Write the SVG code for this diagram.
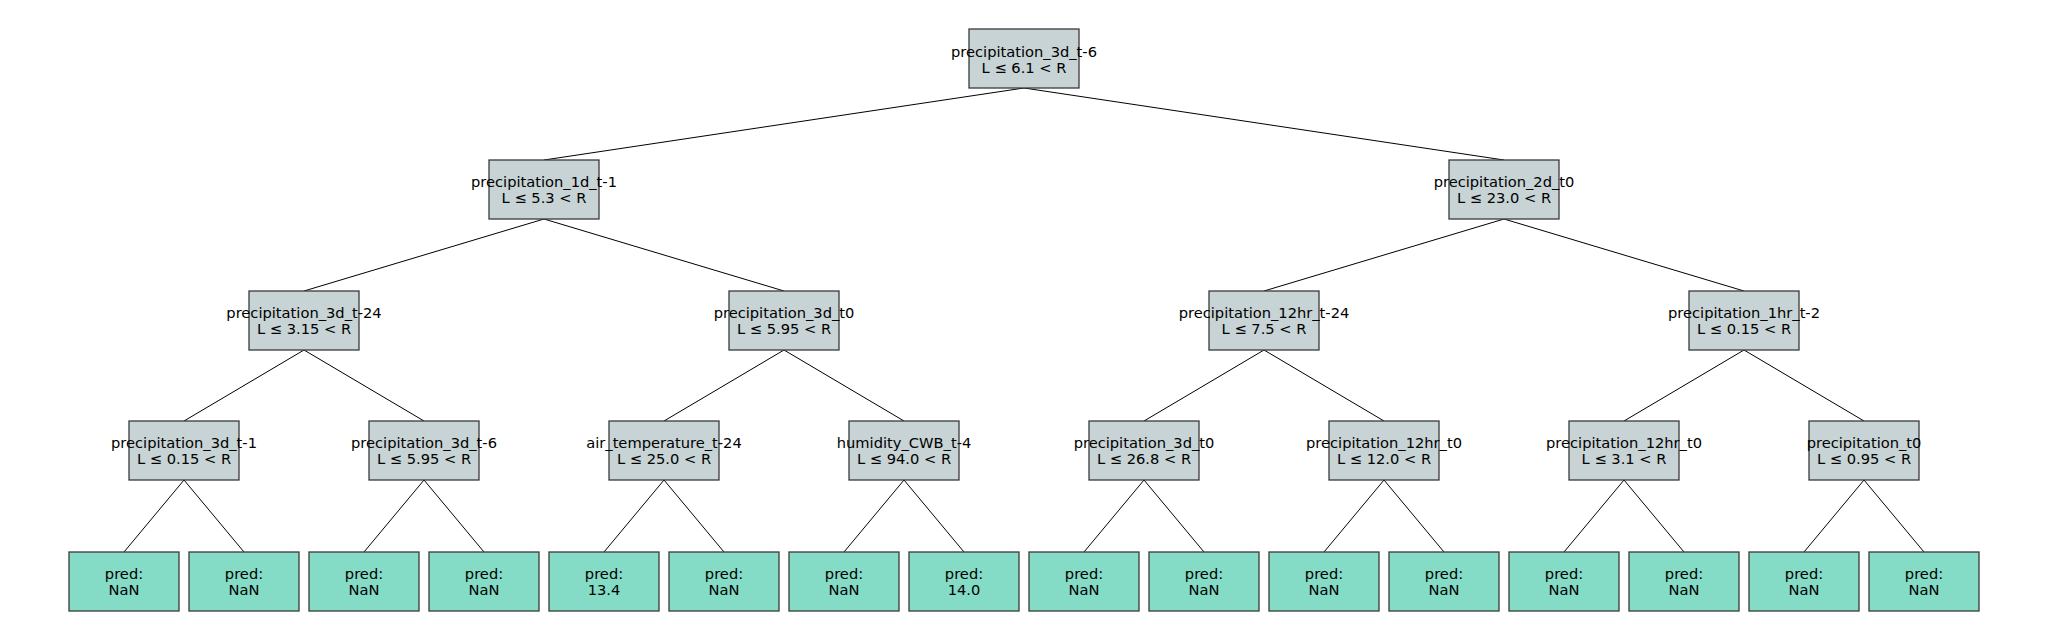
<svg xmlns="http://www.w3.org/2000/svg" width="2048" height="640" viewBox="0 0 2048 640">
<style>
.s{fill:#c7d3d4;stroke:#3a3a3a;stroke-width:1.3}
.l{fill:#84dbc6;stroke:#3a3a3a;stroke-width:1.3}
text{font-family:"DejaVu Sans",sans-serif;font-size:14.67px;fill:#000;text-anchor:middle}
#edges line{stroke:#000;stroke-width:1}
</style>
<rect width="2048" height="640" fill="#fff"/>
<g id="edges">
<line x1="1024" y1="88" x2="544" y2="160"/>
<line x1="1024" y1="88" x2="1504" y2="160"/>
<line x1="544" y1="219" x2="304" y2="291"/>
<line x1="544" y1="219" x2="784" y2="291"/>
<line x1="1504" y1="219" x2="1264" y2="291"/>
<line x1="1504" y1="219" x2="1744" y2="291"/>
<line x1="304" y1="350" x2="184" y2="421"/>
<line x1="304" y1="350" x2="424" y2="421"/>
<line x1="784" y1="350" x2="664" y2="421"/>
<line x1="784" y1="350" x2="904" y2="421"/>
<line x1="1264" y1="350" x2="1144" y2="421"/>
<line x1="1264" y1="350" x2="1384" y2="421"/>
<line x1="1744" y1="350" x2="1624" y2="421"/>
<line x1="1744" y1="350" x2="1864" y2="421"/>
<line x1="184" y1="480" x2="124" y2="552"/>
<line x1="184" y1="480" x2="244" y2="552"/>
<line x1="424" y1="480" x2="364" y2="552"/>
<line x1="424" y1="480" x2="484" y2="552"/>
<line x1="664" y1="480" x2="604" y2="552"/>
<line x1="664" y1="480" x2="724" y2="552"/>
<line x1="904" y1="480" x2="844" y2="552"/>
<line x1="904" y1="480" x2="964" y2="552"/>
<line x1="1144" y1="480" x2="1084" y2="552"/>
<line x1="1144" y1="480" x2="1204" y2="552"/>
<line x1="1384" y1="480" x2="1324" y2="552"/>
<line x1="1384" y1="480" x2="1444" y2="552"/>
<line x1="1624" y1="480" x2="1564" y2="552"/>
<line x1="1624" y1="480" x2="1684" y2="552"/>
<line x1="1864" y1="480" x2="1804" y2="552"/>
<line x1="1864" y1="480" x2="1924" y2="552"/>
</g>
<g id="n0"><rect class="s" x="969" y="29" width="110" height="59"/><text x="1024" y="56.5">precipitation_3d_t-6</text><text x="1024" y="72.5">L ≤ 6.1 &lt; R</text></g>
<g id="n1"><rect class="s" x="489" y="160" width="110" height="59"/><text x="544" y="187">precipitation_1d_t-1</text><text x="544" y="203">L ≤ 5.3 &lt; R</text></g>
<g id="n2"><rect class="s" x="1449" y="160" width="110" height="59"/><text x="1504" y="187">precipitation_2d_t0</text><text x="1504" y="203">L ≤ 23.0 &lt; R</text></g>
<g id="n3"><rect class="s" x="249" y="291" width="110" height="59"/><text x="304" y="318">precipitation_3d_t-24</text><text x="304" y="334">L ≤ 3.15 &lt; R</text></g>
<g id="n4"><rect class="s" x="729" y="291" width="110" height="59"/><text x="784" y="318">precipitation_3d_t0</text><text x="784" y="334">L ≤ 5.95 &lt; R</text></g>
<g id="n5"><rect class="s" x="1209" y="291" width="110" height="59"/><text x="1264" y="318">precipitation_12hr_t-24</text><text x="1264" y="334">L ≤ 7.5 &lt; R</text></g>
<g id="n6"><rect class="s" x="1689" y="291" width="110" height="59"/><text x="1744" y="318">precipitation_1hr_t-2</text><text x="1744" y="334">L ≤ 0.15 &lt; R</text></g>
<g id="n7"><rect class="s" x="129" y="421" width="110" height="59"/><text x="184" y="448">precipitation_3d_t-1</text><text x="184" y="464">L ≤ 0.15 &lt; R</text></g>
<g id="n8"><rect class="s" x="369" y="421" width="110" height="59"/><text x="424" y="448">precipitation_3d_t-6</text><text x="424" y="464">L ≤ 5.95 &lt; R</text></g>
<g id="n9"><rect class="s" x="609" y="421" width="110" height="59"/><text x="664" y="448">air_temperature_t-24</text><text x="664" y="464">L ≤ 25.0 &lt; R</text></g>
<g id="n10"><rect class="s" x="849" y="421" width="110" height="59"/><text x="904" y="448">humidity_CWB_t-4</text><text x="904" y="464">L ≤ 94.0 &lt; R</text></g>
<g id="n11"><rect class="s" x="1089" y="421" width="110" height="59"/><text x="1144" y="448">precipitation_3d_t0</text><text x="1144" y="464">L ≤ 26.8 &lt; R</text></g>
<g id="n12"><rect class="s" x="1329" y="421" width="110" height="59"/><text x="1384" y="448">precipitation_12hr_t0</text><text x="1384" y="464">L ≤ 12.0 &lt; R</text></g>
<g id="n13"><rect class="s" x="1569" y="421" width="110" height="59"/><text x="1624" y="448">precipitation_12hr_t0</text><text x="1624" y="464">L ≤ 3.1 &lt; R</text></g>
<g id="n14"><rect class="s" x="1809" y="421" width="110" height="59"/><text x="1864" y="448">precipitation_t0</text><text x="1864" y="464">L ≤ 0.95 &lt; R</text></g>
<g id="leaf0"><rect class="l" x="69" y="552" width="110" height="59"/><text x="124" y="579">pred:</text><text x="124" y="595">NaN</text></g>
<g id="leaf1"><rect class="l" x="189" y="552" width="110" height="59"/><text x="244" y="579">pred:</text><text x="244" y="595">NaN</text></g>
<g id="leaf2"><rect class="l" x="309" y="552" width="110" height="59"/><text x="364" y="579">pred:</text><text x="364" y="595">NaN</text></g>
<g id="leaf3"><rect class="l" x="429" y="552" width="110" height="59"/><text x="484" y="579">pred:</text><text x="484" y="595">NaN</text></g>
<g id="leaf4"><rect class="l" x="549" y="552" width="110" height="59"/><text x="604" y="579">pred:</text><text x="604" y="595">13.4</text></g>
<g id="leaf5"><rect class="l" x="669" y="552" width="110" height="59"/><text x="724" y="579">pred:</text><text x="724" y="595">NaN</text></g>
<g id="leaf6"><rect class="l" x="789" y="552" width="110" height="59"/><text x="844" y="579">pred:</text><text x="844" y="595">NaN</text></g>
<g id="leaf7"><rect class="l" x="909" y="552" width="110" height="59"/><text x="964" y="579">pred:</text><text x="964" y="595">14.0</text></g>
<g id="leaf8"><rect class="l" x="1029" y="552" width="110" height="59"/><text x="1084" y="579">pred:</text><text x="1084" y="595">NaN</text></g>
<g id="leaf9"><rect class="l" x="1149" y="552" width="110" height="59"/><text x="1204" y="579">pred:</text><text x="1204" y="595">NaN</text></g>
<g id="leaf10"><rect class="l" x="1269" y="552" width="110" height="59"/><text x="1324" y="579">pred:</text><text x="1324" y="595">NaN</text></g>
<g id="leaf11"><rect class="l" x="1389" y="552" width="110" height="59"/><text x="1444" y="579">pred:</text><text x="1444" y="595">NaN</text></g>
<g id="leaf12"><rect class="l" x="1509" y="552" width="110" height="59"/><text x="1564" y="579">pred:</text><text x="1564" y="595">NaN</text></g>
<g id="leaf13"><rect class="l" x="1629" y="552" width="110" height="59"/><text x="1684" y="579">pred:</text><text x="1684" y="595">NaN</text></g>
<g id="leaf14"><rect class="l" x="1749" y="552" width="110" height="59"/><text x="1804" y="579">pred:</text><text x="1804" y="595">NaN</text></g>
<g id="leaf15"><rect class="l" x="1869" y="552" width="110" height="59"/><text x="1924" y="579">pred:</text><text x="1924" y="595">NaN</text></g>
</svg>
